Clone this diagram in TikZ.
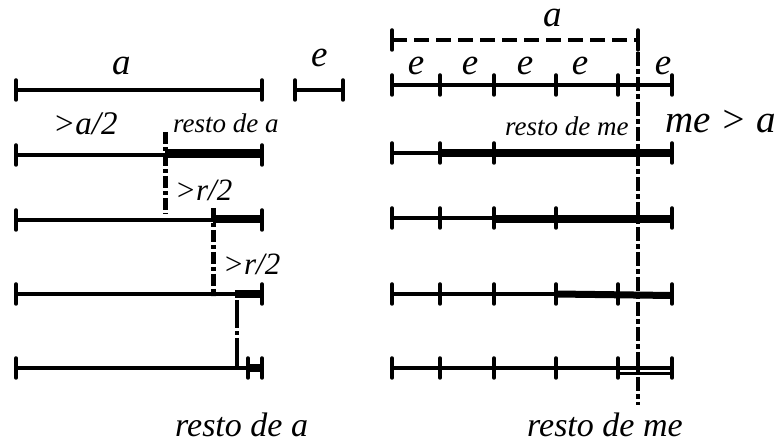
\documentclass[tikz,border=0pt]{standalone}
\usepackage{fontspec}
\setmainfont{Liberation Serif}
\begin{document}
\begin{tikzpicture}[x=1pt,y=-1pt,
  seg/.style={line width=4pt},
  tk/.style={line width=3.5pt, line cap=round},
  heavy/.style={line width=8pt},
  vdash/.style={line width=5pt, dash pattern=on 12pt off 3pt on 4pt off 3pt},
  rdash/.style={line width=4pt, dash pattern=on 14pt off 3pt on 5pt off 3pt},
  adash/.style={line width=4.5pt, dash pattern=on 15pt off 7pt},
  tx/.style={inner sep=0pt, anchor=base west, font=\itshape\fontsize{#1}{#1}\selectfont}]
\useasboundingbox (0,0) rectangle (782,443);
\newcommand\tickat[2]{\draw[tk] (#1,#2-10) -- (#1,#2+10);}
% ---------- left part ----------
% row 1: a
\draw[seg] (16,90) -- (262,90);
\tickat{16}{90}\tickat{262}{90}
\node[tx=37] (la) at (112,75) {a};
% e
\draw[seg] (295,90) -- (343,90);
\tickat{295}{90}\tickat{343}{90}
\node[tx=37] (le) at (311,67) {e};
% row 2
\draw[seg] (16,155) -- (262,155);
\draw[line width=9pt] (165,153.5) -- (262,153.5);
\tickat{16}{155}\tickat{262}{155}
\node[tx=33] (lhalf) at (53,135) {>a/2};
\node[tx=27] (lresto1) at (173,133) {resto de a};
\draw[vdash] (165,132) -- (165,214);
% row 3
\draw[seg] (16,220) -- (262,220);
\draw[heavy] (213,219) -- (262,219);
\tickat{16}{220}\tickat{262}{220}
\node[tx=31] (lr1) at (175,201) {>r/2};
\draw[vdash] (213,208) -- (213,296);
% row 4
\draw[seg] (16,294) -- (262,294);
\draw[heavy] (235,294) -- (262,294);
\tickat{16}{294}\tickat{262}{294}
\node[tx=31] (lr2) at (223,275) {>r/2};
\draw[line width=4pt, dash pattern=on 28pt off 3pt on 4pt off 3pt] (237,300) -- (237,370);
% row 5
\draw[seg] (16,368) -- (262,368);
\draw[heavy] (248,368) -- (262,368);
\tickat{16}{368}\tickat{248}{368}\tickat{262}{368}
\node[tx=34] (lresto2) at (175,436) {resto de a};
% ---------- right part ----------
% dashed a
\draw[adash] (392,40) -- (638,40);
\tickat{392}{40}\tickat{638}{40}
\node[tx=37] (ra) at (543,27) {a};
% row 1
\draw[seg] (392,85) -- (672,85);
\foreach \x in {392,440,494,556,618,672} {\tickat{\x}{85}}
\foreach \x/\n in {416/1,470/2,525/3,580/4,663/5} {\node[tx=37, anchor=base] (re\n) at (\x,75) {e};}
% row 2
\draw[seg] (392,153) -- (672,153);
\draw[heavy] (440,153) -- (672,153);
\foreach \x in {392,440,494,672} {\tickat{\x}{153}}
\node[tx=27] (rresto1) at (505,136) {resto de me};
\node[tx=39] (rme) at (665,133) {me > a};
% row 3
\draw[seg] (392,218) -- (672,218);
\draw[heavy] (494,219) -- (672,219);
\foreach \x in {392,440,494,556,672} {\tickat{\x}{218}}
% row 4
\draw[seg] (392,294) -- (672,294);
\draw[line width=7pt] (556,294) -- (672,295.5);
\foreach \x in {392,440,494,556,618,672} {\tickat{\x}{294}}
% row 5
\draw[seg] (392,368) -- (672,368);
\draw[line width=3pt] (618,374) -- (672,374);
\foreach \x in {392,440,494,556,618,672} {\tickat{\x}{368}}
% vertical a-line
\draw[rdash] (638,52) -- (638,405);
\node[tx=34] (rresto2) at (527,436) {resto de me};
\end{tikzpicture}
\end{document}
